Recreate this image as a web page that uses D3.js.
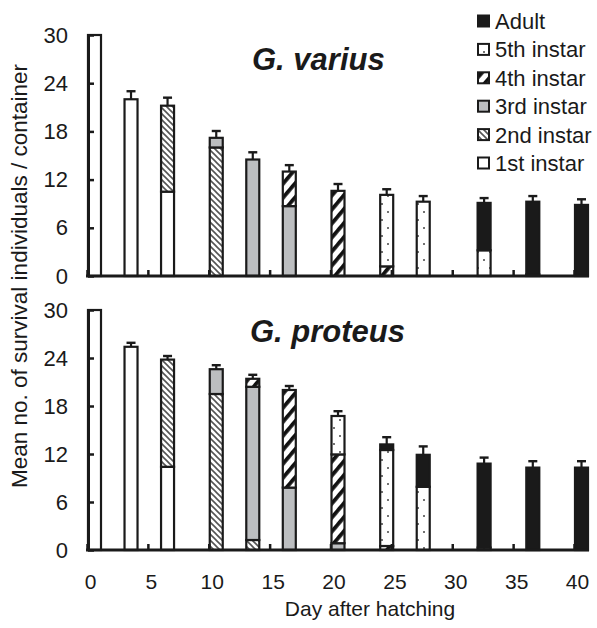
<!DOCTYPE html>
<html><head><meta charset="utf-8">
<script src="https://cdn.jsdelivr.net/npm/d3@7"></script>
<style>body{margin:0;background:#fff}svg{display:block}text{font-family:"Liberation Sans",Arial,sans-serif;fill:#1a1a1a}</style>
</head><body><svg id="c" width="597" height="628"></svg>
<script>
const days = [0,3,6,10,13,16,20,24,27,32,36,40];
const stages = ["1st instar","2nd instar","3rd instar","4th instar","5th instar","Adult"];
const legendOrder = ["Adult","5th instar","4th instar","3rd instar","2nd instar","1st instar"];
const xTicks = [0,5,10,15,20,25,30,35,40];
const yTicks = [0,6,12,18,24,30];

// G. varius
const variusFirst  = [30,22,10.5,0,0,0,0,0,0,0,0,0];
const variusSecond = [0,0,10.7,16.0,0,0,0,0,0,0,0,0];
const variusThird  = [0,0,0,1.2,14.5,8.7,0,0,0,0,0,0];
const variusFourth = [0,0,0,0,0,4.3,10.6,1.2,0,0,0,0];
const variusFifth  = [0,0,0,0,0,0,0,8.9,9.25,3.2,0.2,0];
const variusAdult  = [0,0,0,0,0,0,0,0,0,5.9,9.05,8.85];
const variusErr    = [0,1.0,1.0,0.85,0.9,0.8,0.85,0.7,0.7,0.6,0.7,0.7];

// G. proteus
const proteusFirst  = [30,25.4,10.4,0,0,0,0,0,0,0,0,0];
const proteusSecond = [0,0,13.4,19.5,1.25,0,0,0,0,0,0,0];
const proteusThird  = [0,0,0,3.1,19.15,7.8,0.85,0,0,0,0,0];
const proteusFourth = [0,0,0,0,1.0,12.2,11.1,0.5,0,0,0,0];
const proteusFifth  = [0,0,0,0,0,0,4.8,12.0,7.9,0.3,0,0];
const proteusAdult  = [0,0,0,0,0,0,0,0.7,4.0,10.5,10.3,10.3];
const proteusErr    = [0,0.5,0.45,0.5,0.5,0.5,0.6,0.9,1.05,0.75,0.8,0.8];

const svg = d3.select("#c");
const defs = svg.append("defs");
// patterns
const pDots = defs.append("pattern").attr("id","pDots").attr("patternUnits","userSpaceOnUse").attr("width",12).attr("height",16);
pDots.append("rect").attr("width",12).attr("height",16).attr("fill","#fff");
pDots.append("circle").attr("cx",4).attr("cy",4).attr("r",1).attr("fill","#444");
pDots.append("circle").attr("cx",10).attr("cy",12).attr("r",1).attr("fill","#444");
const p4 = defs.append("pattern").attr("id","p4").attr("patternUnits","userSpaceOnUse").attr("width",9).attr("height",9).attr("patternTransform","rotate(40)");
p4.append("rect").attr("width",9).attr("height",9).attr("fill","#fff");
p4.append("rect").attr("width",3.8).attr("height",9).attr("fill","#111");
const p2 = defs.append("pattern").attr("id","p2").attr("patternUnits","userSpaceOnUse").attr("width",6).attr("height",6);
p2.append("rect").attr("width",6).attr("height",6).attr("fill","#fff");
p2.append("path").attr("d","M-1,-1L7,7M-1,5L1,7M5,-1L7,1").attr("stroke","#555").attr("stroke-width",1.6);

const fills = {"1st instar":"#fff","2nd instar":"url(#p2)","3rd instar":"#bcbec0","4th instar":"url(#p4)","5th instar":"url(#pDots)","Adult":"#1a1a1a"};

const x = d3.scaleLinear().domain([0,40]).range([87,574]);
const barW = 13;

const panels = [
  {title:"G. varius", series:[variusFirst,variusSecond,variusThird,variusFourth,variusFifth,variusAdult], err:variusErr, y0:276, y1:35, titleX:252, titleY:70, labels:false},
  {title:"G. proteus", series:[proteusFirst,proteusSecond,proteusThird,proteusFourth,proteusFifth,proteusAdult], err:proteusErr, y0:550, y1:310, titleX:250, titleY:342, labels:true}
];

panels.forEach(p=>{
  const y = d3.scaleLinear().domain([0,30]).range([p.y0,p.y1]);
  const rows = days.map((d,i)=>{const r={day:d,err:p.err[i]}; stages.forEach((s,k)=>r[s]=p.series[k][i]); return r;});
  const stacked = d3.stack().keys(stages)(rows);
  const g = svg.append("g");
  stacked.forEach(layer=>{
    g.selectAll(null).data(layer.filter(d=>d[1]-d[0]>0)).join("rect")
      .attr("x",d=>x(d.data.day)+1).attr("width",barW)
      .attr("y",d=>y(d[1])).attr("height",d=>y(d[0])-y(d[1]))
      .attr("fill",fills[layer.key]).attr("stroke","#1a1a1a").attr("stroke-width",2.2);
  });
  // error bars
  const tot = rows.map(r=>({day:r.day,err:r.err,total:d3.sum(stages,s=>r[s])})).filter(r=>r.err>0);
  g.selectAll(null).data(tot).join("line")
    .attr("x1",d=>x(d.day)+1+barW/2).attr("x2",d=>x(d.day)+1+barW/2)
    .attr("y1",d=>y(d.total)).attr("y2",d=>y(d.total+d.err))
    .attr("stroke","#1a1a1a").attr("stroke-width",2.2);
  g.selectAll(null).data(tot).join("line")
    .attr("x1",d=>x(d.day)+1+barW/2-4.5).attr("x2",d=>x(d.day)+1+barW/2+4.5)
    .attr("y1",d=>y(d.total+d.err)).attr("y2",d=>y(d.total+d.err))
    .attr("stroke","#1a1a1a").attr("stroke-width",2.4);
  // y axis
  const ya = svg.append("g").attr("transform","translate(88,0)")
    .call(d3.axisLeft(y).tickValues(yTicks).tickSizeInner(-6).tickSizeOuter(0).tickPadding(20));
  ya.select(".domain").attr("stroke","#1a1a1a").attr("stroke-width",3);
  ya.selectAll(".tick line").attr("stroke","#1a1a1a").attr("stroke-width",2.5);
  ya.selectAll("text").attr("font-size",22).attr("fill","#1a1a1a").style("font-family","Liberation Sans, Arial, sans-serif");
  // x axis
  const xa = svg.append("g").attr("transform",`translate(0,${p.y0})`)
    .call(d3.axisBottom(x).tickValues(xTicks).tickSizeInner(-6).tickSizeOuter(0).tickPadding(24));
  xa.select(".domain").attr("d",`M86,0H589`).attr("stroke","#1a1a1a").attr("stroke-width",3);
  xa.selectAll(".tick line").attr("stroke","#1a1a1a").attr("stroke-width",2.5);
  xa.selectAll("text").attr("font-size",21).attr("fill","#1a1a1a").attr("dx",3).style("font-family","Liberation Sans, Arial, sans-serif");
  if(!p.labels) xa.selectAll("text").remove();
  svg.append("text").attr("x",p.titleX).attr("y",p.titleY).attr("font-size",31)
    .attr("font-weight","bold").attr("font-style","italic").text(p.title);
});

svg.append("text").attr("transform","translate(27,276) rotate(-90)").attr("text-anchor","middle")
  .attr("font-size",22.5).text("Mean no. of survival individuals / container");
svg.append("text").attr("x",370).attr("y",616).attr("text-anchor","middle")
  .attr("font-size",21).text("Day after hatching");

// legend
const lg = svg.append("g");
legendOrder.forEach((s,i)=>{
  const cy = 21 + i*28.4;
  lg.append("rect").attr("x",478).attr("y",cy-5.5).attr("width",11).attr("height",11)
    .attr("fill",fills[s]).attr("stroke","#1a1a1a").attr("stroke-width",2);
  lg.append("text").attr("x",495).attr("y",cy).attr("dy","0.36em").attr("font-size",22).text(s);
});
</script></body></html>
